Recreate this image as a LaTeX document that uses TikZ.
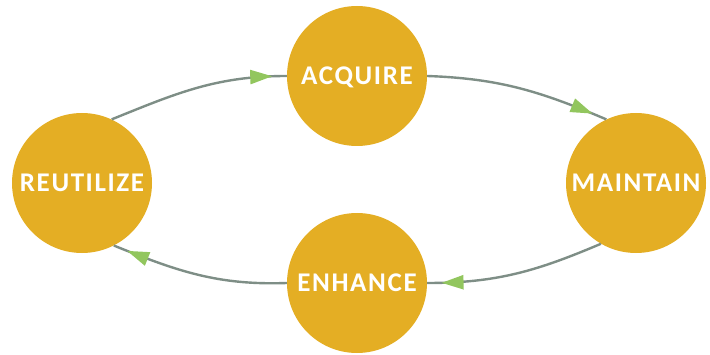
\documentclass[tikz,border=0pt]{standalone}
\usepackage{fontspec}
\setmainfont{Carlito}
\newfontfamily\stagefont[LetterSpace = 6]{Carlito Bold}
\usetikzlibrary{arrows.meta,decorations.markings}
\definecolor{stagegold}{HTML}{E4AE24}
\definecolor{flowgray}{HTML}{7E8E86}
\definecolor{tipgreen}{HTML}{92C65E}
\begin{document}
\begin{tikzpicture}[x = 1pt, y = 1pt,
    stage/.style = {circle, fill = stagegold, inner sep = 0pt,
                    minimum size = 140pt, text = white, text depth = 0pt,
                    font = \stagefont\fontsize{27}{27}\selectfont},
    flow/.style = {draw = flowgray, line width = 2.4pt,
                   postaction = {decorate},
                   decoration = {markings,
                     mark = at position 0.92 with
                       {\arrow[tipgreen]{Triangle[length = 22pt, width = 14pt]}}}}]
      \useasboundingbox (0,0) rectangle (710,354);
      \node [stage] (acquire)   at (357,278) {ACQUIRE};
      \node [stage] (maintain)  at (636,171) {MAINTAIN};
      \node [stage] (enhance)   at (357,71)  {ENHANCE};
      \node [stage] (reutilize) at (82,171)  {REUTILIZE};
      \draw [flow] (reutilize.65) to [out = 22, in = 180] (acquire.180);
      \draw [flow] (acquire.0) to [out = -2, in = 157] (maintain.115);
      \draw [flow] (maintain.240) to [out = 203, in = 0] (enhance.0);
      \draw [flow] (enhance.180) to [out = 182, in = -22] (reutilize.297);
    \end{tikzpicture}
\end{document}
